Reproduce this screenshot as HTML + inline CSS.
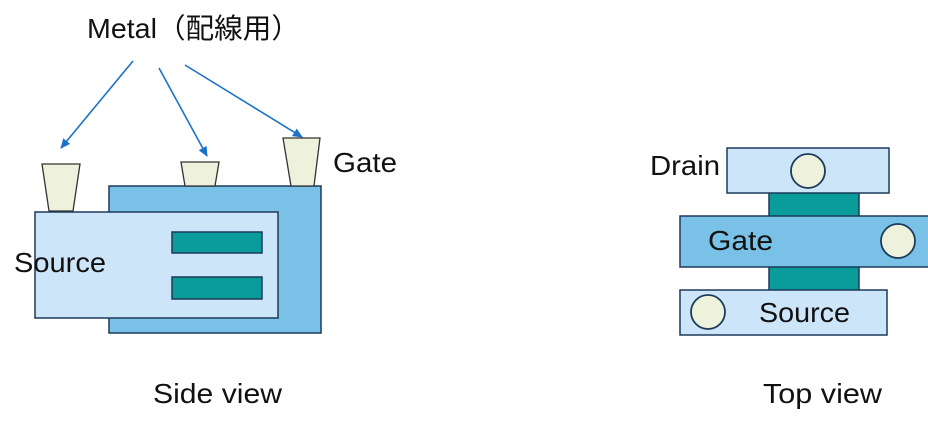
<!DOCTYPE html>
<html>
<head>
<meta charset="utf-8">
<style>
html,body{margin:0;padding:0;background:#fff;}
svg{display:block;}
text{font-family:"Liberation Sans","Noto Sans CJK JP",sans-serif;fill:#111;}
</style>
</head>
<body>
<svg width="928" height="431" viewBox="0 0 928 431" xmlns="http://www.w3.org/2000/svg">
<defs>
<marker id="ah" markerWidth="10" markerHeight="10" refX="9" refY="5" orient="auto" markerUnits="userSpaceOnUse">
<path d="M0,0.5 L10,5 L0,9.5 z" fill="#1a72c9"/>
</marker>
</defs>
<rect width="928" height="431" fill="#fff"/>

<!-- Title -->
<text x="87" y="38" font-size="28" textLength="213" lengthAdjust="spacingAndGlyphs">Metal（配線用）</text>

<!-- arrows -->
<g stroke="#1a72c9" stroke-width="1.6" fill="none">
<line x1="133" y1="61" x2="61" y2="148" marker-end="url(#ah)"/>
<line x1="159" y1="68" x2="207" y2="156" marker-end="url(#ah)"/>
<line x1="185" y1="65" x2="302" y2="137" marker-end="url(#ah)"/>
</g>

<!-- Side view -->
<rect x="109" y="186" width="212" height="147" fill="#7ac1e8" stroke="#1c3a5a" stroke-width="1.5"/>
<rect x="35" y="212" width="243" height="106" fill="#cde5f9" stroke="#1c3a5a" stroke-width="1.5"/>
<rect x="172" y="232" width="90" height="21" fill="#0a9b9b" stroke="#1c3a5a" stroke-width="1.5"/>
<rect x="172" y="277" width="90" height="22" fill="#0a9b9b" stroke="#1c3a5a" stroke-width="1.5"/>

<!-- metal caps -->
<g fill="#eef2dc" stroke="#333" stroke-width="1.3">
<polygon points="42,164 80,164 73,211 49,211"/>
<polygon points="181,162 219,162 215,186 185,186"/>
<polygon points="283,138 320,138 314,186 291,186"/>
</g>

<text x="333" y="172" font-size="28" textLength="64" lengthAdjust="spacingAndGlyphs">Gate</text>
<text x="14" y="272" font-size="28" textLength="92" lengthAdjust="spacingAndGlyphs">Source</text>
<text x="153" y="403" font-size="28" textLength="129" lengthAdjust="spacingAndGlyphs">Side view</text>

<!-- Top view -->
<rect x="769" y="192" width="90" height="25" fill="#0a9b9b" stroke="#1c3a5a" stroke-width="1.5"/>
<rect x="769" y="266" width="90" height="25" fill="#0a9b9b" stroke="#1c3a5a" stroke-width="1.5"/>
<rect x="727" y="148" width="162" height="45" fill="#cde5f9" stroke="#1c3a5a" stroke-width="1.5"/>
<rect x="680" y="216" width="260" height="51" fill="#7ac1e8" stroke="#1c3a5a" stroke-width="1.5"/>
<rect x="680" y="290" width="207" height="45" fill="#cde5f9" stroke="#1c3a5a" stroke-width="1.5"/>

<g fill="#eef2dc" stroke="#1c3a5a" stroke-width="1.8">
<circle cx="808" cy="171" r="17"/>
<circle cx="898" cy="241" r="17"/>
<circle cx="708" cy="312" r="17"/>
</g>

<text x="650" y="175" font-size="28" textLength="70" lengthAdjust="spacingAndGlyphs">Drain</text>
<text x="708" y="250" font-size="28" textLength="65" lengthAdjust="spacingAndGlyphs">Gate</text>
<text x="759" y="322" font-size="28" textLength="91" lengthAdjust="spacingAndGlyphs">Source</text>
<text x="763" y="403" font-size="28" textLength="119" lengthAdjust="spacingAndGlyphs">Top view</text>
</svg>
</body>
</html>
